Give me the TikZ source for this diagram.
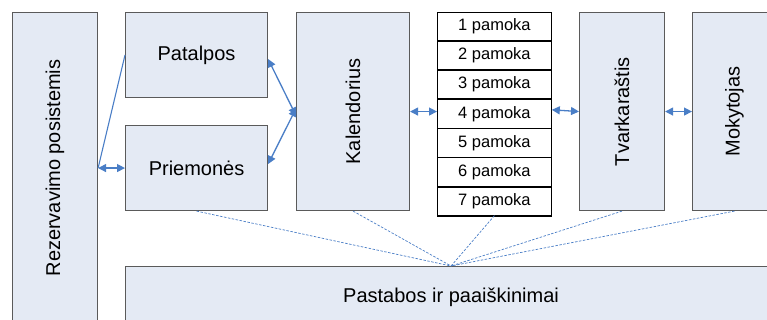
\documentclass[tikz,border=0pt]{standalone}
\usepackage{fontspec}
\setmainfont{Liberation Sans}
\usetikzlibrary{arrows.meta}
\definecolor{boxfill}{HTML}{E4EAF4}
\definecolor{boxdraw}{HTML}{5A5A5A}
\definecolor{arrblue}{HTML}{4A7EC6}
\tikzset{
  blk/.style={draw=boxdraw, fill=boxfill, line width=1.1pt, inner sep=0pt, anchor=north west},
  row/.style={draw=black, fill=white, line width=0.8pt, inner sep=0pt, anchor=north west,
              minimum width=114pt, minimum height=28.29pt, font=\fontsize{16.5}{18}\selectfont},
  lbl/.style={font=\fontsize{20}{24}\selectfont, inner sep=0pt},
  arr/.style={draw=arrblue, line width=1.3pt, {Triangle[length=8pt,width=8pt]}-{Triangle[length=8pt,width=8pt]}},
  plain/.style={draw=arrblue, line width=1.1pt},
  dsh/.style={draw=arrblue, line width=0.7pt, dash pattern=on 2.5pt off 1.5pt}
}
\begin{document}
\begin{tikzpicture}[x=1pt,y=-1pt]
\useasboundingbox (0,0) rectangle (767,320);
\clip (0,0) rectangle (767,320);
% boxes
\node[blk, minimum width=85pt, minimum height=311pt] (rez) at (12,12) {};
\node[lbl, rotate=90] (rezt) at (rez.center) {Rezervavimo posistemis};
\node[blk, minimum width=142pt, minimum height=85pt] (pat) at (125,12) {};
\node[lbl] (patt) at (pat.center) {Patalpos};
\node[blk, minimum width=142pt, minimum height=85pt] (pri) at (125,125) {};
\node[lbl] (prit) at (pri.center) {Priemonės};
\node[blk, minimum width=113pt, minimum height=198pt] (kal) at (296,12) {};
\node[lbl, rotate=90] (kalt) at (kal.center) {Kalendorius};
\node[blk, minimum width=85pt, minimum height=198pt] (tv) at (579,12) {};
\node[lbl, rotate=90] (tvt) at (tv.center) {Tvarkaraštis};
\node[blk, minimum width=84pt, minimum height=198pt] (mok) at (692,12) {};
\node[lbl, rotate=90] (mokt) at (mok.center) {Mokytojas};
\node[blk, minimum width=651pt, minimum height=62pt] (pas) at (125,266) {};
\node[lbl] (past) at (pas.center) {Pastabos ir paaiškinimai};
% table
\node[row] (r1) at (437,12) {1 pamoka};
\node[row] (r2) at (r1.south west) {2 pamoka};
\node[row] (r3) at (r2.south west) {3 pamoka};
\node[row] (r4) at (r3.south west) {4 pamoka};
\node[row] (r5) at (r4.south west) {5 pamoka};
\node[row] (r6) at (r5.south west) {6 pamoka};
\node[row] (r7) at (r6.south west) {7 pamoka};
\draw[line width=2pt, black] (r7.south west) -- (r7.south east);
% connectors
\draw[arr] (rez.east |- pri.west) -- (pri.west);
\draw[plain] (rez.east |- pri.west) -- (pat.west);
\draw[arr] ([yshift=-4pt]pat.east) -- ([yshift=-4pt]kal.west);
\draw[arr] ([yshift=4pt]pri.east) -- ([yshift=3pt]kal.west);
\draw[arr] (kal.east) -- (kal.east -| r4.west);
\draw[arr] ([yshift=4pt]r4.east) -- (tv.west);
\draw[arr] (tv.east) -- (mok.west);
\draw[dsh] (pri.south) -- (pas.north);
\draw[dsh] (kal.south) -- (pas.north);
\draw[dsh] (r7.south) -- (pas.north);
\draw[dsh] (tv.south) -- (pas.north);
\draw[dsh] (mok.south) -- (pas.north);
\end{tikzpicture}
\end{document}
